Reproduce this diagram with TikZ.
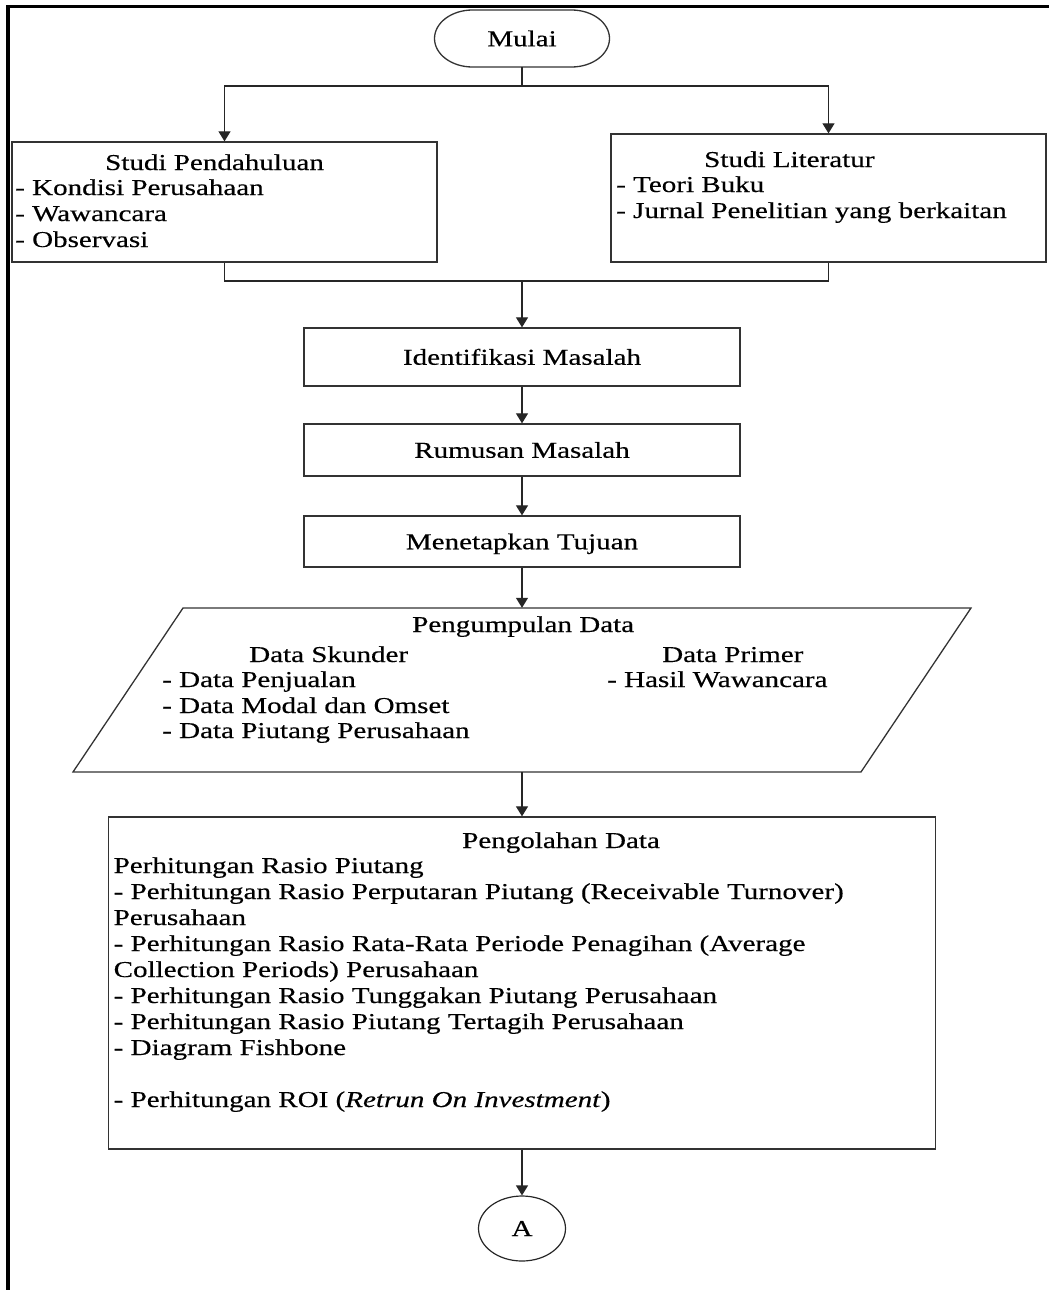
\documentclass[tikz,border=0pt]{standalone}
\usepackage{fontspec}
\setmainfont{Liberation Serif}[FakeStretch=1.28,FakeBold=0.35]
\usetikzlibrary{arrows.meta,shapes.geometric}
\begin{document}
\begin{tikzpicture}[x=1pt,y=-1pt,
  font=\fontsize{22.7}{25.8}\selectfont,
  line/.style={draw=black!85, line width=1.2pt},
  arr/.style={line, -{Triangle[length=10pt,width=12pt]}},
  box/.style={draw=black!80, line width=1.3pt, fill=white, inner sep=0pt},
  onebox/.style={box, minimum width=436pt, text height=15.5pt, text depth=0pt},
  txt/.style={inner sep=0pt, anchor=base west},
  anchorbox/.style={inner sep=0pt, minimum width=10pt},
  frame/.style={line width=3.5pt, black}]
\useasboundingbox (0,0) rectangle (1049,1290);
% page frame
\draw[frame] (8,1290) -- (8,6.5) -- (1049,6.5);

% start terminal
\draw[box] (472.5,10) -- (571.5,10)
  .. controls (592.5,10) and (609.5,22.8) .. (609.5,38.5)
  .. controls (609.5,54.2) and (592.5,67) .. (571.5,67)
  -- (472.5,67)
  .. controls (451.5,67) and (434.5,54.2) .. (434.5,38.5)
  .. controls (434.5,22.8) and (451.5,10) .. (472.5,10) -- cycle;
\node[inner sep=0pt, minimum width=175pt, minimum height=57pt, text height=15.5pt, text depth=0pt] (mulai) at (522,38.5) {Mulai};

% Studi Pendahuluan
\node[box, minimum width=425pt, minimum height=120pt] (pend) at (224.5,202) {};
\node[txt] (pendT) at (105,170) {Studi Pendahuluan};
\node[txt] (pend1) at (15,195) {- Kondisi Perusahaan};
\node[txt] (pend2) at (15,221) {- Wawancara};
\node[txt] (pend3) at (15,247) {- Observasi};

% Studi Literatur
\node[box, minimum width=435pt, minimum height=128pt] (lit) at (828.5,198) {};
\node[txt] (litT) at (704,167) {Studi Literatur};
\node[txt] (lit1) at (616,192) {- Teori Buku};
\node[txt] (lit2) at (616,218) {- Jurnal Penelitian yang berkaitan};

\coordinate (split) at (522,86);
\draw[line] (mulai.south) -- (split);
\draw[arr] (split) -| (pend.north);
\draw[arr] (split) -| (lit.north);

% middle boxes
\node[onebox, minimum height=58pt] (ident) at (522,357) {Identifikasi Masalah};
\node[onebox, minimum height=52pt] (rumus) at (522,450) {Rumusan Masalah};
\node[onebox, minimum height=51pt] (tujuan) at (522,541.5) {Menetapkan Tujuan};

\coordinate (join) at (522,281);
\draw[line] (pend.south) |- (join);
\draw[line] (lit.south) |- (join);
\draw[arr] (join) -- (ident.north);
\draw[arr] (ident) -- (rumus);
\draw[arr] (rumus) -- (tujuan);

% Pengumpulan Data (parallelogram)
\draw[box] (183,608) -- (971,608) -- (861,772) -- (73,772) -- cycle;
\node[anchorbox, minimum height=164pt] (data) at (522,690) {};
\node[txt] (dataT) at (412,632) {Pengumpulan Data};
\node[txt] (ds) at (249,662) {Data Skunder};
\node[txt] (ds1) at (162,687) {- Data Penjualan};
\node[txt] (ds2) at (162,713) {- Data Modal dan Omset};
\node[txt] (ds3) at (162,738) {- Data Piutang Perusahaan};
\node[txt] (dp) at (662,662) {Data Primer};
\node[txt] (dp1) at (607,687) {- Hasil Wawancara};
\draw[arr] (tujuan) -- (data.north);

% Pengolahan Data
\node[box, minimum width=827pt, minimum height=332pt] (peng) at (522,983) {};
\node[txt] (pengT) at (462,848) {Pengolahan Data};
\node[txt] (p1) at (113.5,873) {Perhitungan Rasio Piutang};
\node[txt] (p2) at (113.5,899) {- Perhitungan Rasio Perputaran Piutang (Receivable Turnover)};
\node[txt] (p3) at (113.5,925) {Perusahaan};
\node[txt] (p4) at (113.5,951) {- Perhitungan Rasio Rata-Rata Periode Penagihan (Average};
\node[txt] (p5) at (113.5,977) {Collection Periods) Perusahaan};
\node[txt] (p6) at (113.5,1003) {- Perhitungan Rasio Tunggakan Piutang Perusahaan};
\node[txt] (p7) at (113.5,1029) {- Perhitungan Rasio Piutang Tertagih Perusahaan};
\node[txt] (p8) at (113.5,1055) {- Diagram Fishbone};
\node[txt] (p9) at (113.5,1107) {- Perhitungan ROI (\textit{Retrun On Investment})};
\draw[arr] (data.south) -- (peng.north);

% connector A
\node[draw=black!85, line width=1.2pt, ellipse, minimum width=87pt, minimum height=65pt, inner sep=0pt] (A) at (522,1228.5) {A};
\draw[arr] (peng.south) -- (A.north);
\end{tikzpicture}
\end{document}
